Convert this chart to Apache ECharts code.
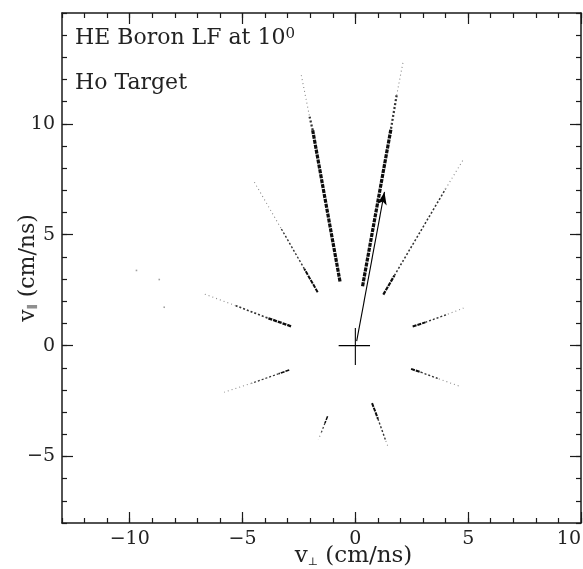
<!DOCTYPE html>
<html>
<head>
<meta charset="utf-8">
<script src="https://cdn.jsdelivr.net/npm/echarts@6/dist/echarts.min.js"></script>
<style>
html,body{margin:0;padding:0;background:#fff;}
#chart{width:583px;height:569px;}
</style>
</head>
<body>
<div id="chart"></div>
<script>
// ---- data ----
const xTickValues = [-10, -5, 0, 5, 10];
const yTickValues = [-5, 0, 5, 10];
const titleLine1 = 'HE Boron LF at 10';
const titleSup = '0';
const titleLine2 = 'Ho Target';
// each streak: inner end, end of dense part, end of medium part, outer end
const streakA = [[-0.68, 2.89], [-1.89, 9.71], [-2.04, 10.38], [-2.41, 12.27]];
const streakB = [[0.32, 2.68], [1.58, 9.78], [1.83, 11.29], [2.13, 12.87]];
const streakC = [[-1.67, 2.41], [-2.26, 3.46], [-3.3, 5.3], [-4.48, 7.38]];
const streakD = [[1.24, 2.30], [1.73, 3.16], [4.0, 7.07], [4.76, 8.35]];
const streakE = [[-2.85, 0.87], [-3.9, 1.25], [-5.3, 1.8], [-6.7, 2.33]];
const streakF = [[2.54, 0.86], [3.1, 1.05], [4.1, 1.42], [4.79, 1.69]];
const streakG = [[-2.93, -1.1], [-3.4, -1.27], [-4.6, -1.7], [-5.81, -2.1]];
const streakH = [[2.47, -1.05], [2.9, -1.2], [3.7, -1.5], [4.61, -1.83]];
const streakI = [[-1.23, -3.19], [-1.35, -3.5], [-1.5, -3.9], [-1.64, -4.24]];
const streakJ = [[0.74, -2.59], [1.0, -3.3], [1.35, -4.3], [1.46, -4.59]];
const strayDots = [[-9.7, 3.39], [-8.69, 2.98], [-8.47, 1.73]];
const arrowStart = [0.06, 0.2];
const arrowEnd = [1.29, 6.93];
const crossH = [[-0.74, 0], [0.65, 0]];
const crossV = [[0, 0.79], [0, -0.87]];

// ---- styles ----
const streaks = [streakA, streakB, streakC, streakD, streakE, streakF, streakG, streakH, streakI, streakJ];
const streakWidths = [3.2, 3.2, 2, 2.2, 2.4, 2, 1.6, 2, 1.5, 2];
const FONT = 'DejaVu Serif';
const INK = '#1a1a1a';

function seg(points, width, color, type) {
  return {
    type: 'line', xAxisIndex: 0, yAxisIndex: 0, data: points,
    symbol: 'none', silent: true, animation: false,
    lineStyle: { width: width, color: color, type: type || 'solid', cap: 'butt' },
    z: 3
  };
}
const series = [];
streaks.forEach(function (s, i) {
  const w = streakWidths[i];
  series.push(seg([s[0], s[1]], w, '#0d0d0d', [4, 1]));
  series.push(seg([s[1], s[2]], Math.max(1.2, w * 0.7), '#333', [2, 2]));
  series.push(seg([s[2], s[3]], 1.1, '#8a8a8a', [1, 3]));
});
series.push({
  type: 'scatter', xAxisIndex: 0, yAxisIndex: 0, data: strayDots,
  symbol: 'rect', symbolSize: 1.6, itemStyle: { color: '#888' }, silent: true, animation: false
});
series.push(seg(crossH, 1.1, '#000', 'solid'));
series.push(seg(crossV, 1.1, '#000', 'solid'));
series.push({
  type: 'line', xAxisIndex: 0, yAxisIndex: 0, data: [], animation: false, silent: true,
  markLine: {
    silent: true, animation: false,
    symbol: ['none', 'arrow'], symbolSize: [7, 13],
    label: { show: false },
    lineStyle: { color: '#000', width: 1.1, type: 'solid' },
    data: [[{ coord: arrowStart }, { coord: arrowEnd }]]
  },
  z: 5
});

const fmt = function (v) { return v < 0 ? '\u2212' + Math.abs(v) : String(v); };
const gridRect = { left: 62, right: 2, top: 13, bottom: 46, outerBoundsMode: 'none', containLabel: false };

function minorAxis(pos, min, max) {
  return {
    type: 'value', position: pos, min: min, max: max, interval: 1,
    gridIndex: 0,
    axisLine: { show: true, onZero: false, lineStyle: { color: INK, width: 1.5 } },
    axisTick: { show: true, inside: true, length: 5, lineStyle: { color: INK, width: 1.2 } },
    axisLabel: { show: false }, splitLine: { show: false }
  };
}
function majorAxis(pos, min, max, ticks, showLabel) {
  return {
    type: 'value', position: pos, min: min, max: max,
    gridIndex: 1,
    axisLine: { show: false, onZero: false },
    axisTick: { show: true, inside: true, length: 11, customValues: ticks, lineStyle: { color: INK, width: 1.2 } },
    axisLabel: { show: showLabel, customValues: ticks, formatter: fmt, fontFamily: FONT, fontSize: 19, color: '#222', margin: 7, hideOverlap: false },
    splitLine: { show: false }
  };
}

const xMajorBottom = majorAxis('bottom', -13, 10, xTickValues, true);
xMajorBottom.axisLabel.alignMaxLabel = 'right';
xMajorBottom.name = '{v|v}{s|\u22A5}{v| (cm/ns)}';
xMajorBottom.nameLocation = 'middle';
xMajorBottom.nameMoveOverlap = false;
xMajorBottom.nameGap = 22;
xMajorBottom.nameTextStyle = {
  padding: [0, 0, 0, 64],
  rich: {
    v: { fontFamily: FONT, fontSize: 23, color: '#222' },
    s: { fontFamily: FONT, fontSize: 11, color: '#222', verticalAlign: 'bottom', padding: [8, 0, 0, 0] }
  }
};
const yMajorLeft = majorAxis('left', -8, 15, yTickValues, true);
yMajorLeft.name = '{v|v}{s|\u2225}{v| (cm/ns)}';
yMajorLeft.nameLocation = 'middle';
yMajorLeft.nameMoveOverlap = false;
yMajorLeft.nameGap = 23;
yMajorLeft.nameTextStyle = {
  rich: {
    v: { fontFamily: FONT, fontSize: 22, color: '#222' },
    s: { fontFamily: FONT, fontSize: 11, color: '#222', verticalAlign: 'bottom', padding: [8, 0, 0, 0] }
  }
};

const option = {
  animation: false,
  backgroundColor: '#fff',
  title: [
    {
      text: '{a|' + titleLine1 + '}{s|' + titleSup + '}', left: 70, top: 22,
      textStyle: { fontWeight: 'normal', rich: {
        a: { fontFamily: FONT, fontSize: 22, color: '#222', fontWeight: 'normal' },
        s: { fontFamily: FONT, fontSize: 15, color: '#222', fontWeight: 'normal', verticalAlign: 'top' }
      } }
    },
    {
      text: titleLine2, left: 70, top: 67,
      textStyle: { fontFamily: FONT, fontSize: 22, color: '#222', fontWeight: 'normal' }
    }
  ],
  grid: [Object.assign({}, gridRect), Object.assign({}, gridRect)],
  xAxis: [
    minorAxis('bottom', -13, 10),
    minorAxis('top', -13, 10),
    xMajorBottom,
    majorAxis('top', -13, 10, xTickValues, false)
  ],
  yAxis: [
    minorAxis('left', -8, 15),
    minorAxis('right', -8, 15),
    yMajorLeft,
    majorAxis('right', -8, 15, yTickValues, false)
  ],
  series: series
};
option.series.push({ type: 'line', xAxisIndex: 2, yAxisIndex: 2, data: [], silent: true });

const chart = echarts.init(document.getElementById('chart'), null, { renderer: 'canvas' });
chart.setOption(option);
</script>
</body>
</html>
